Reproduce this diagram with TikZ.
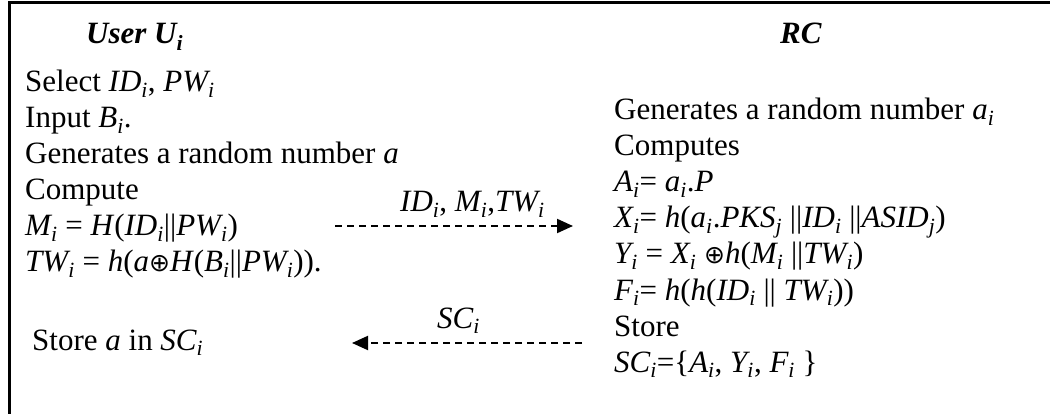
\documentclass[tikz,border=0pt]{standalone}
\usepackage{fontspec}
\setmainfont{Liberation Serif}
\newfontfamily\symf{DejaVu Sans}
\usetikzlibrary{arrows.meta}
\newcommand{\sbx}[1]{\textsubscript{#1}}
\newcommand{\oplusx}{{\symf\fontsize{25}{30}\selectfont ⊕}}
\begin{document}
\begin{tikzpicture}[x=1pt,y=-1pt,
  txt/.style={anchor=base west, inner sep=0pt, font=\fontsize{31}{36}\selectfont},
  ttl/.style={anchor=base west, inner sep=0pt, font=\fontsize{31}{36}\selectfont\bfseries\itshape},
  msg/.style={line width=2pt, dash pattern=on 7pt off 5pt, -{Triangle[length=16pt,width=14pt]}},
  frameline/.style={line width=3pt}]
\useasboundingbox (0,0) rectangle (1050,414);
\fill[white] (0,0) rectangle (1050,414);
\draw[frameline] (9,414) -- (9,3) -- (1050,3);
% left column
\node[ttl] (user) at (86,44) {User U\sbx{i}};
\node[txt] (l1) at (25,92) {Select \textit{ID\sbx{i}}, \textit{PW\sbx{i}}};
\node[txt] (l2) at (25,128) {Input \textit{B\sbx{i}}.};
\node[txt] (l3) at (25,164) {Generates a random number \textit{a}};
\node[txt] (l4) at (25,200) {Compute};
\node[txt] (l5) at (25,236) {\textit{M\sbx{i}} = \textit{H}(\textit{ID\sbx{i}}||\textit{PW\sbx{i}})};
\node[txt] (l6) at (25,272) {\textit{TW\sbx{i}} = \textit{h}(\textit{a}\oplusx\textit{H}(\textit{B\sbx{i}}||\textit{PW\sbx{i}})).};
\node[txt] (l7) at (32,350) {Store \textit{a} in \textit{SC\sbx{i}}};
% right column
\node[ttl] (rc) at (780,44) {RC};
\node[txt] (r1) at (614,120) {Generates a random number \textit{a\sbx{i}}};
\node[txt] (r2) at (614,156) {Computes};
\node[txt] (r3) at (614,192) {\textit{A\sbx{i}}= \textit{a\sbx{i}}.\textit{P}};
\node[txt] (r4) at (614,228) {\textit{X\sbx{i}}= \textit{h}(\textit{a\sbx{i}}.\textit{PKS\sbx{j}} ||\textit{ID\sbx{i}} ||\textit{ASID\sbx{j}})};
\node[txt] (r5) at (614,264) {\textit{Y\sbx{i}} = \textit{X\sbx{i}} \oplusx\textit{h}(\textit{M\sbx{i}} ||\textit{TW\sbx{i}})};
\node[txt] (r6) at (614,300) {\textit{F\sbx{i}}= \textit{h}(\textit{h}(\textit{ID\sbx{i}} || \textit{TW\sbx{i}}))};
\node[txt] (r7) at (614,336) {Store};
\node[txt] (r8) at (614,372) {\textit{SC\sbx{i}}=\{\textit{A\sbx{i}}, \textit{Y\sbx{i}}, \textit{F\sbx{i}} \}};
% messages
\coordinate (m1s) at (335,226);
\coordinate (m1e) at (573,226);
\draw[msg] (m1s) -- (m1e);
\node[txt] (m1l) at (400,212) {\textit{ID\sbx{i}}, \textit{M\sbx{i}},\textit{TW\sbx{i}}};
\coordinate (m2s) at (582,343);
\coordinate (m2e) at (352,343);
\draw[msg] (m2s) -- (m2e);
\node[txt] (m2l) at (437,328) {\textit{SC\sbx{i}}};
\end{tikzpicture}
\end{document}
